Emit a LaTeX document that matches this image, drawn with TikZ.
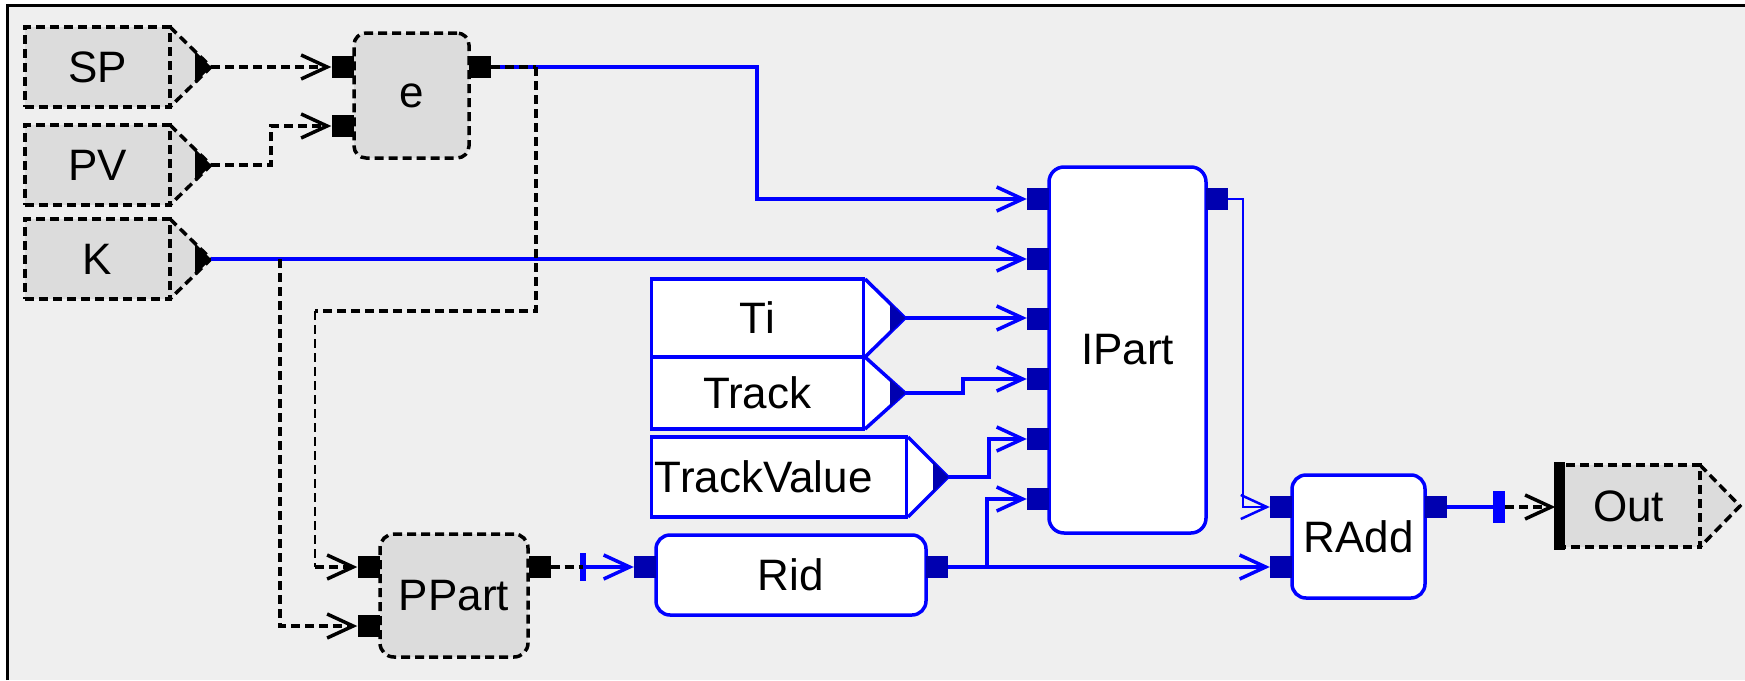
\documentclass[tikz,border=0pt]{standalone}
\usepackage{fontspec}
\setmainfont{Liberation Sans}
\usepackage{tikz}
\usetikzlibrary{calc,arrows.meta,positioning}
\definecolor{bgc}{HTML}{EFEFEF}
\definecolor{grayc}{HTML}{DCDCDC}
\definecolor{wirec}{HTML}{0000FF}
\definecolor{portc}{HTML}{0000B0}
\tikzset{
  oa/.style={-{Straight Barb[length=26pt,width=24pt]}},
  bw/.style={wirec,line width=3.5pt},
  kw/.style={black,line width=3.5pt,dash pattern=on 9pt off 5pt},
  gbox/.style={draw=black,line width=3.5pt,dash pattern=on 9pt off 5pt,fill=grayc,inner sep=0pt,font=\fontsize{44}{50}\selectfont},
  wbox/.style={draw=wirec,line width=3.5pt,fill=white,inner sep=0pt,font=\fontsize{44}{50}\selectfont},
  kport/.style={fill=black,minimum width=22pt,minimum height=22pt,inner sep=0pt},
  bport/.style={fill=portc,minimum width=22pt,minimum height=22pt,inner sep=0pt},
  tick/.style={fill=wirec,inner sep=0pt}
}
\begin{document}
\begin{tikzpicture}[x=1pt,y=-1pt]
\useasboundingbox (0,0) rectangle (1745,680);
\fill[bgc] (7,5) rectangle (1745,680);
\draw[line width=3pt] (7,680) -- (7,5) -- (1745,5);
% input connectors
\foreach \nm/\yy in {SP/67,PV/165,K/259}{
  \coordinate (tip\nm) at (211,\yy);
  \filldraw[kw,fill=grayc] (170,{\yy-40}) -- (tip\nm) -- (170,{\yy+40});
  \fill (195,{\yy-16}) -- (tip\nm) -- (195,{\yy+16}) -- cycle;
  \node[gbox,minimum width=145pt,minimum height=80pt] (\nm) at (97.5,\yy) {\nm};
}
\foreach \nm/\rx/\yy/\ww/\hh/\sh in {Ti/865/318/212/78/0,Track/865/393/212/72/0,TrackValue/908/477/255/80/-30}{
  \coordinate (tip\nm) at ({\rx+40},\yy);
  \filldraw[bw,fill=white] (\rx,{\yy-\hh/2}) -- (tip\nm) -- (\rx,{\yy+\hh/2});
  \fill[portc] ({\rx+25},{\yy-\hh*0.19}) -- (tip\nm) -- ({\rx+25},{\yy+\hh*0.19}) -- cycle;
  \node[wbox,anchor=east,minimum width={\ww*1pt},minimum height={\hh*1pt}] (\nm) at (\rx,\yy) {\hspace*{\sh pt}\nm};
}
% blocks
\node[gbox,rounded corners=12pt,minimum width=115pt,minimum height=125pt] (e) at (411.5,95.5) {e};
\node[kport] (ein1) at (342.5,67) {};
\node[kport] (ein2) at (342.5,126) {};
\node[kport] (eout) at (480,67) {};
\node[gbox,rounded corners=14pt,minimum width=148pt,minimum height=123pt] (PPart) at (454,595.5) {PPart};
\node[kport] (pin1) at (368.5,567) {};
\node[kport] (pin2) at (368.5,626) {};
\node[kport] (pout) at (539.5,567) {};
\node[wbox,rounded corners=14pt,minimum width=270pt,minimum height=80pt] (Rid) at (791,575) {Rid};
\node[bport] (rin) at (645,567) {};
\node[bport] (rout) at (937,567) {};
\node[wbox,rounded corners=15pt,minimum width=157pt,minimum height=366pt] (IPart) at (1127.5,350) {IPart};
\foreach \i/\yy in {1/199,2/259,3/319,4/379,5/439,6/499}
  \node[bport] (ip\i) at (1038,\yy) {};
\node[bport] (ipout) at (1217,199) {};
\node[wbox,rounded corners=14pt,minimum width=133pt,minimum height=123pt] (RAdd) at (1358.5,536.5) {RAdd};
\node[bport] (ain1) at (1281,507) {};
\node[bport] (ain2) at (1281,567) {};
\node[bport] (aout) at (1436,507) {};
% output connector
\coordinate (tipOut) at (1740,506);
\filldraw[kw,fill=grayc] (1700,465) -- (tipOut) -- (1700,547);
\node[gbox,minimum width=143pt,minimum height=82pt] (Out) at (1628.5,506) {Out};
\fill ($(Out.north west)+(-1,-1)$) rectangle ($(Out.south west)+(10,1)$);
\node[tick,minimum width=6pt,minimum height=28pt] (rtick) at (583,567) {};
\node[tick,minimum width=12pt,minimum height=32pt] (otick) at (1499,507) {};
% wires
\coordinate (kj) at ($(tipK)+(69,0)$);
\coordinate (ej) at ($(eout.east)+(45,0)$);
\coordinate (pj) at ($(ej)+(-221,244)$);
\coordinate (rj) at ($(rout.east)+(39,0)$);
\draw[kw,oa] (tipSP) -- (ein1.west);
\draw[kw,oa] (tipPV) -- ++(60,0) |- (ein2.west);
\draw[bw,oa] (tipK) -- (tipK -| ip2.west);
\draw[kw,oa] (kj) |- (pin2.west);
\draw[bw,oa] (eout.east) -- ++(266,0) |- (ip1.west);
\draw[kw] (eout.east) -- (ej);
\draw[kw] (ej) |- (pj);
\draw[kw,line width=2pt] (pj) -- (pj |- pin1.west);
\draw[kw,oa] (pj |- pin1.west) -- (pin1.west);
\draw[kw] (pout.east) -- (rtick.center);
\draw[bw,oa] (rtick.center) -- (rin.west);
\draw[bw,oa] (tipTi) -- (tipTi -| ip3.west);
\draw[bw,oa] (tipTrack) -- ++(58,0) |- (ip4.west);
\draw[bw,oa] (tipTrackValue) -- ++(41,0) |- (ip5.west);
\draw[bw,oa] (rout.east) -- (ain2.west);
\draw[bw,oa] (rj) |- (ip6.west);
\draw[wirec,line width=2.5pt,oa] (ipout.east) -- ++(15,0) |- (ain1.west);
\draw[bw] (aout.east) -- (otick.center);
\draw[kw,oa] (otick.east) -- (otick.east -| Out.west);
\end{tikzpicture}
\end{document}
